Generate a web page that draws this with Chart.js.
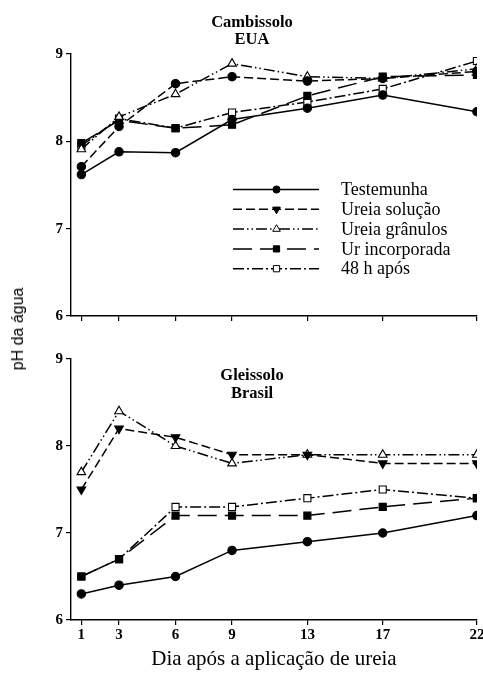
<!DOCTYPE html>
<html>
<head>
<meta charset="utf-8">
<script src="https://cdn.jsdelivr.net/npm/chart.js@4/dist/chart.umd.min.js"></script>
<style>
  html, body { margin: 0; padding: 0; background: #fff; }
  body { width: 483px; height: 677px; position: relative; overflow: hidden; }
  canvas { position: absolute; left: 0; }
  #ylab { position: absolute; left: 18px; top: 329px; transform: translate(-50%, -50%) rotate(-90deg);
          font-family: 'Liberation Sans', Arial, sans-serif; font-size: 16px; color: #000; white-space: nowrap; }
</style>
</head>
<body>
<canvas id="cTop" width="483" height="330" style="top:0px"></canvas>
<canvas id="cBot" width="483" height="347" style="top:330px"></canvas>
<div id="ylab">pH da água</div>
<script>
// ---- data ----
const days = [1, 3, 6, 9, 13, 17, 22];
const yTicks = [6, 7, 8, 9];
const seriesNames = ['Testemunha', 'Ureia solução', 'Ureia grânulos', 'Ur incorporada', '48 h após'];
const panelTitles = [['Cambissolo', 'EUA'], ['Gleissolo', 'Brasil']];
const xTitle = 'Dia após a aplicação de ureia';

// Cambissolo (EUA)
const camTestemunha  = [7.62, 7.88, 7.87, 8.25, 8.38, 8.53, 8.34];
const camSolucao     = [7.71, 8.17, 8.66, 8.74, 8.69, 8.72, 8.80];
const camGranulos    = [7.91, 8.28, 8.54, 8.89, 8.74, 8.72, 8.83];
const camIncorporada = [7.98, 8.24, 8.15, 8.19, 8.52, 8.74, 8.76];
const cam48h         = [7.95, 8.26, 8.15, 8.33, 8.45, 8.60, 8.92];

// Gleissolo (Brasil)
const gleTestemunha  = [6.3, 6.4, 6.5, 6.8, 6.9, 7.0, 7.2];
const gleSolucao     = [7.5, 8.2, 8.1, 7.9, 7.9, 7.8, 7.8];
const gleGranulos    = [7.7, 8.4, 8.0, 7.8, 7.9, 7.9, 7.9];
const gleIncorporada = [6.5, 6.7, 7.2, 7.2, 7.2, 7.3, 7.4];
const gle48h         = [6.5, 6.7, 7.3, 7.3, 7.4, 7.5, 7.4];

// ---- styles ----
const SERIF = "'Liberation Serif', 'Times New Roman', serif";
const styles = [
  { dash: [],                      pointStyle: 'circle',   rot: 0,   r: 4.2, bg: '#000' },
  { dash: [9, 4],                  pointStyle: 'triangle', rot: 180, r: 5,   bg: '#000' },
  { dash: [11, 3, 1.5, 3, 1.5, 3], pointStyle: 'triangle', rot: 0,   r: 5,   bg: '#fff' },
  { dash: [19, 8],                 pointStyle: 'rect',     rot: 0,   r: 5,   bg: '#000' },
  { dash: [11, 3, 2, 3],           pointStyle: 'rect',     rot: 0,   r: 5,   bg: '#fff' }
];

function toPts(arr) { return arr.map((v, i) => ({ x: days[i], y: v })); }

function makeDatasets(seriesArr, overrides) {
  return seriesArr.map((arr, i) => {
    const s = Object.assign({}, styles[i], (overrides && overrides[i]) || {});
    return {
      label: seriesNames[i],
      data: toPts(arr),
      borderColor: '#000',
      borderWidth: 1.5,
      borderDash: s.dash,
      backgroundColor: s.bg,
      pointBackgroundColor: s.bg,
      pointBorderColor: '#000',
      pointBorderWidth: 1.1,
      pointStyle: s.pointStyle,
      pointRotation: s.rot,
      pointRadius: s.r,
      pointHoverRadius: s.r,
      tension: 0,
      fill: false
    };
  });
}

const titlePlugin = {
  id: 'panelTitle',
  afterDraw(chart, args, opts) {
    const ctx = chart.ctx;
    ctx.save();
    ctx.fillStyle = '#000';
    ctx.textAlign = 'center';
    ctx.textBaseline = 'alphabetic';
    ctx.font = "bold 16.5px " + SERIF;
    opts.lines.forEach((t, i) => ctx.fillText(t, opts.x, opts.y[i]));
    ctx.restore();
  }
};

const legendPlugin = {
  id: 'lineLegend',
  afterDraw(chart, args, opts) {
    if (!opts.show) return;
    const ctx = chart.ctx;
    ctx.save();
    chart.data.datasets.forEach((ds, i) => {
      const y = opts.y0 + i * opts.dy;
      ctx.strokeStyle = '#000';
      ctx.lineWidth = ds.borderWidth;
      ctx.setLineDash(ds.borderDash);
      ctx.beginPath();
      ctx.moveTo(opts.x0, y);
      ctx.lineTo(opts.x1, y);
      ctx.stroke();
      ctx.setLineDash([]);
      ctx.fillStyle = ds.pointBackgroundColor;
      ctx.strokeStyle = '#000';
      ctx.lineWidth = 1;
      const st = styles[i];
      Chart.helpers.drawPoint(ctx, { pointStyle: st.pointStyle, rotation: st.rot, radius: st.r - 0.6, borderWidth: 1 }, opts.xm, y);
      ctx.fillStyle = '#000';
      ctx.font = "18px " + SERIF;
      ctx.textAlign = 'left';
      ctx.textBaseline = 'middle';
      ctx.fillText(ds.label, opts.xt, y + 1);
    });
    ctx.restore();
  }
};

function makeChart(id, datasets, cfg) {
  return new Chart(document.getElementById(id), {
    type: 'line',
    data: { datasets },
    plugins: [titlePlugin, legendPlugin],
    options: {
      responsive: false,
      animation: false,
      devicePixelRatio: 1,
      layout: { padding: { top: cfg.padTop, right: 6, left: 0, bottom: cfg.padBottom } },
      plugins: {
        legend: { display: false },
        tooltip: { enabled: false },
        panelTitle: { lines: cfg.title, x: 252, y: cfg.titleY },
        lineLegend: { show: cfg.legend, x0: 233, x1: 319, xm: 276.5, xt: 341, y0: 189.5, dy: 19.8 }
      },
      scales: {
        x: {
          type: 'linear',
          min: 0.45,
          max: 22,
          afterBuildTicks: (s) => { s.ticks = days.map(v => ({ value: v })); },
          afterFit: (s) => { s.height = cfg.xHeight; s.paddingLeft = 0; s.paddingRight = 0; },
          grid: { display: true, drawOnChartArea: false, drawTicks: true, tickLength: 5, color: '#000', lineWidth: 1.2 },
          border: { display: true, color: '#000', width: 1.4 },
          ticks: {
            display: cfg.xLabels,
            autoSkip: false,
            maxRotation: 0,
            padding: 1,
            color: '#000',
            font: { family: SERIF, size: 15, weight: 'bold' },
            callback: (v) => String(v)
          },
          title: {
            display: cfg.xLabels,
            text: xTitle,
            color: '#000',
            font: { family: SERIF, size: 21 },
            padding: { top: 0, bottom: 5 }
          }
        },
        y: {
          min: 6,
          max: 9,
          afterBuildTicks: (s) => { s.ticks = yTicks.map(v => ({ value: v })); },
          afterFit: (s) => { s.width = 71; },
          grid: { display: true, drawOnChartArea: false, drawTicks: true, tickLength: 5, color: '#000', lineWidth: 1.2 },
          border: { display: true, color: '#000', width: 1.4 },
          ticks: {
            padding: 3,
            color: '#000',
            font: { family: SERIF, size: 15, weight: 'bold' },
            callback: (v) => String(v)
          }
        }
      }
    }
  });
}

makeChart('cTop',
  makeDatasets([camTestemunha, camSolucao, camGranulos, camIncorporada, cam48h],
               { 1: { pointStyle: 'circle', rot: 0, r: 4.2 } }),
  { padTop: 54, padBottom: 0, xHeight: 14, xLabels: false, legend: true,
    title: panelTitles[0], titleY: [27, 44] });

makeChart('cBot',
  makeDatasets([gleTestemunha, gleSolucao, gleGranulos, gleIncorporada, gle48h]),
  { padTop: 29, padBottom: 0, xHeight: 57, xLabels: true, legend: false,
    title: panelTitles[1], titleY: [50, 68] });
</script>
</body>
</html>
